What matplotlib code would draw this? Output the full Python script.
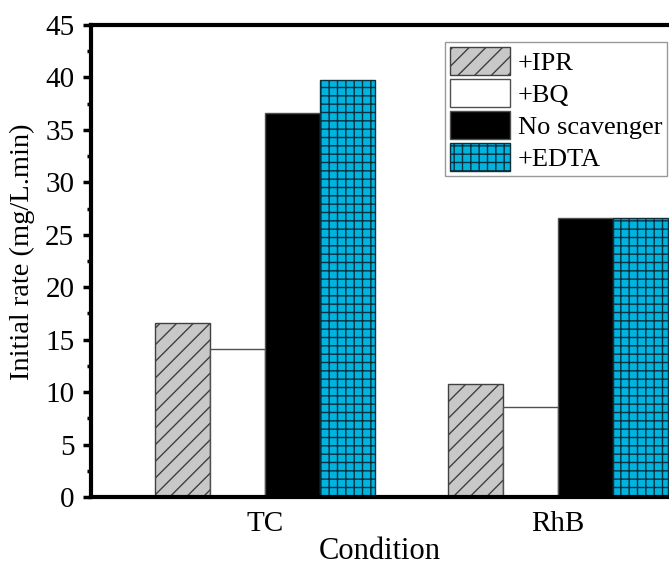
import matplotlib
matplotlib.use('Agg')
import matplotlib.pyplot as plt
import numpy as np

plt.rcParams['font.family'] = ['Liberation Serif', 'DejaVu Serif']
plt.rcParams['hatch.linewidth'] = 1.0

conditions = ['TC', 'RhB']
series = ['+IPR', '+BQ', 'No scavenger', '+EDTA']
ipr = [16.6, 10.8]
bq = [14.1, 8.6]
no_scav = [36.6, 26.6]
edta = [39.8, 26.6]

fig = plt.figure(figsize=(6.69, 5.65), dpi=100)
ax = fig.add_axes([0.136, 0.1204, 0.864, 0.8354])

x = np.arange(len(conditions))
w = 0.1877
ax.bar(x - 1.5*w, ipr, w, color='#c8c8c8', edgecolor='#404040', hatch='//', linewidth=1, label=series[0])
ax.bar(x - 0.5*w, bq, w, color='white', edgecolor='#505050', linewidth=1, label=series[1])
ax.bar(x + 0.5*w, no_scav, w, color='black', edgecolor='#505050', linewidth=1, label=series[2])
ax.bar(x + 1.5*w, edta, w, color='#00b4e0', edgecolor='#0b2f3d', hatch='++', linewidth=1, label=series[3])

ax.set_xlim(-0.594, 1.379)
ax.set_ylim(0, 45)
ax.set_yticks(np.arange(0, 46, 5))
ax.set_yticks(np.arange(2.5, 45, 5), minor=True)
ax.set_xticks(x)
ax.set_xticklabels(conditions)
ax.tick_params(axis='x', length=0, pad=10, labelsize=21)
ax.tick_params(axis='y', which='major', direction='out', length=6, width=2.5, labelsize=21, pad=6)
ax.tick_params(axis='y', which='minor', direction='out', length=3, width=2.5)
for s in ['left', 'top', 'bottom']:
    ax.spines[s].set_linewidth(3)
ax.spines['right'].set_visible(False)

ax.set_xlabel('Condition', fontsize=22, labelpad=0)
ax.set_ylabel('Initial rate (mg/L.min)', fontsize=20.5)
ax.yaxis.set_label_coords(-0.097, 0.52)

leg = ax.legend(loc='upper left', bbox_to_anchor=(445/669, 1 - 42/565), bbox_transform=fig.transFigure,
                fontsize=19, frameon=True, fancybox=False, edgecolor='#808080',
                handlelength=2.25, handleheight=1.25, handletextpad=0.3, labelspacing=0.15,
                borderpad=0.2, borderaxespad=0)
leg.get_frame().set_linewidth(1)

fig.savefig('out.png', dpi=100)
